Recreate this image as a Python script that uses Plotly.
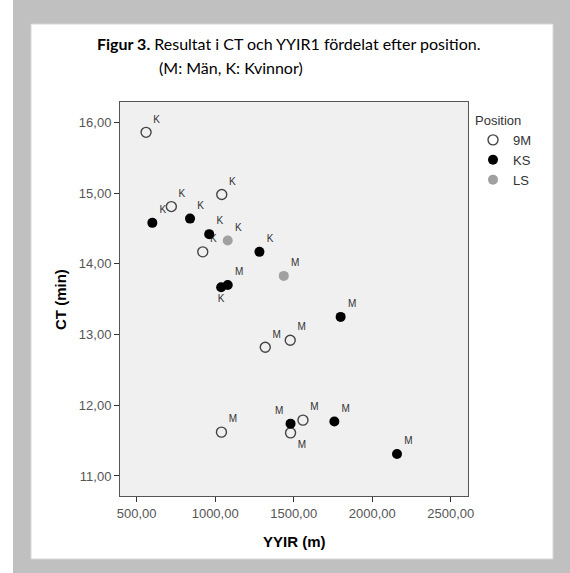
import plotly.graph_objects as go

# ---- data ----
m9_x = [560, 1042, 721, 921, 1319, 1478, 1040, 1480, 1559]
m9_y = [15.86, 14.98, 14.81, 14.17, 12.82, 12.92, 11.62, 11.61, 11.79]
m9_sex = ["K", "K", "K", "K", "M", "M", "M", "M", "M"]
m9_pos = ["top right"] * 7 + ["bottom right", "top right"]

ks_x = [600, 840, 962, 1282, 1038, 1080, 1799, 1480, 1759, 2158]
ks_y = [14.58, 14.64, 14.42, 14.17, 13.67, 13.70, 13.25, 11.74, 11.77, 11.31]
ks_sex = ["K", "K", "K", "K", "K", "M", "M", "M", "M", "M"]
ks_pos = ["top right"] * 4 + ["bottom center", "top right", "top right", "top left", "top right", "top right"]

ls_x = [1080, 1437]
ls_y = [14.33, 13.83]
ls_sex = ["K", "M"]
ls_pos = ["top right", "top right"]

x_ticks = [500, 1000, 1500, 2000, 2500]
y_ticks = [11, 12, 13, 14, 15, 16]

# ---- layout geometry (pixels) ----
W, H = 570, 573
L, R, T, B = 120, 102, 102, 77
PW, PH = W - L - R, H - T - B


def px(x):
    return (x - L) / PW


def py(y):
    return (H - B - y) / PH


SANS = "Arial"

fig = go.Figure()
lab_font = dict(family=SANS, size=10, color="#333333")

fig.add_trace(go.Scatter(
    x=m9_x, y=m9_y, mode="markers+text", name="9M", text=m9_sex,
    textposition=m9_pos, textfont=lab_font,
    marker=dict(symbol="circle-open", size=10, color="#444444", line=dict(width=1.4)),
))
fig.add_trace(go.Scatter(
    x=ks_x, y=ks_y, mode="markers+text", name="KS", text=ks_sex,
    textposition=ks_pos, textfont=lab_font,
    marker=dict(symbol="circle", size=10, color="#000000"),
))
fig.add_trace(go.Scatter(
    x=ls_x, y=ls_y, mode="markers+text", name="LS", text=ls_sex,
    textposition=ls_pos, textfont=lab_font,
    marker=dict(symbol="circle", size=10, color="#a0a0a0"),
))

shapes = [
    # grey outer frame
    dict(type="rect", xref="paper", yref="paper", x0=px(13), x1=px(W + 5), y0=py(H + 5), y1=py(-5),
         fillcolor="#c0c0c0", line=dict(width=0), layer="below"),
    # white panel
    dict(type="rect", xref="paper", yref="paper", x0=px(31), x1=px(553), y0=py(559), y1=py(24),
         fillcolor="#ffffff", line=dict(width=1, color="#d8d8d8"), layer="below"),
    # plot area background
    dict(type="rect", xref="paper", yref="paper", x0=0, x1=1, y0=0, y1=1,
         fillcolor="#f0f0f0", line=dict(width=0), layer="below"),
]

title_font = dict(family="Lato", size=16, color="#000000")
annotations = [
    dict(text="<b>Figur 3.</b> Resultat i CT och YYIR1 fördelat efter position.",
         xref="paper", yref="paper", x=px(95), y=py(43), xanchor="left", yanchor="middle",
         showarrow=False, font=title_font),
    dict(text="(M: Män, K: Kvinnor)",
         xref="paper", yref="paper", x=px(157), y=py(67), xanchor="left", yanchor="middle",
         showarrow=False, font=title_font),
    dict(text="<b>YYIR (m)</b>", xref="paper", yref="paper", x=px(294), y=py(541),
         xanchor="center", yanchor="middle", showarrow=False,
         font=dict(family=SANS, size=15, color="#000000")),
    dict(text="<b>CT (min)</b>", xref="paper", yref="paper", x=px(60), y=py(299),
         xanchor="center", yanchor="middle", showarrow=False, textangle=-90,
         font=dict(family=SANS, size=15, color="#000000")),
]

tick_font = dict(family=SANS, size=13, color="#555555")
fig.update_layout(
    width=W, height=H, margin=dict(l=L, r=R, t=T, b=B, autoexpand=False),
    paper_bgcolor="#ffffff", plot_bgcolor="rgba(0,0,0,0)",
    separators=",.",
    font=dict(family=SANS),
    shapes=shapes, annotations=annotations,
    xaxis=dict(range=[394, 2610], tickvals=x_ticks, tickformat=".2f", showgrid=False, zeroline=False,
               showline=True, mirror=True, linecolor="#555555", linewidth=1,
               ticks="outside", ticklen=5, tickcolor="#333333", tickfont=tick_font),
    yaxis=dict(range=[10.717, 16.289], tickvals=y_ticks, tickformat=".2f", showgrid=False, zeroline=False,
               showline=True, mirror=True, linecolor="#555555", linewidth=1,
               ticks="outside", ticklen=5, tickcolor="#333333", tickfont=tick_font),
    legend=dict(x=px(473), y=py(108), xanchor="left", yanchor="top",
                bgcolor="rgba(0,0,0,0)", itemwidth=30, tracegroupgap=0,
                title=dict(text="Position", font=dict(family=SANS, size=13, color="#333333")),
                font=dict(family=SANS, size=13, color="#333333")),
    showlegend=True,
)

fig.write_html("out.html")
